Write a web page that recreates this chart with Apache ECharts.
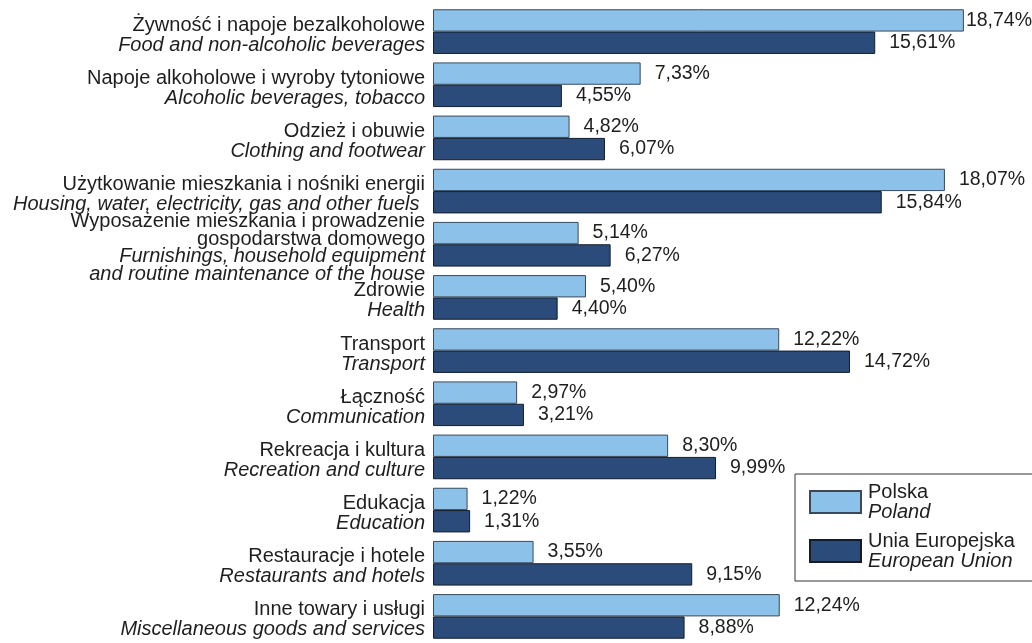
<!DOCTYPE html>
<html>
<head>
<meta charset="utf-8">
<script src="https://cdn.jsdelivr.net/npm/echarts@6/dist/echarts.min.js"></script>
<style>
    html, body {margin: 0; padding: 0; background: #fff;}
    #chart {width: 1032px; height: 643px;}
</style>
</head>
<body>
<div id="chart"></div>
<script>
// nazwy kategorii (PL / EN)
var plNames = [
    'Żywność i napoje bezalkoholowe',
    'Napoje alkoholowe i wyroby tytoniowe',
    'Odzież i obuwie',
    'Użytkowanie mieszkania i nośniki energii',
    'Wyposażenie mieszkania i prowadzenie\ngospodarstwa domowego',
    'Zdrowie',
    'Transport',
    'Łączność',
    'Rekreacja i kultura',
    'Edukacja',
    'Restauracje i hotele',
    'Inne towary i usługi'
];
var enNames = [
    'Food and non-alcoholic beverages',
    'Alcoholic beverages, tobacco',
    'Clothing and footwear',
    'Housing, water, electricity, gas and other fuels ',
    'Furnishings, household equipment\nand routine maintenance of the house',
    'Health',
    'Transport',
    'Communication',
    'Recreation and culture',
    'Education',
    'Restaurants and hotels',
    'Miscellaneous goods and services'
];

// udziały w %
var polandVals = [18.74, 7.33, 4.82, 18.07, 5.14, 5.40, 12.22, 2.97, 8.30, 1.22, 3.55, 12.24];
var euVals = [15.61, 4.55, 6.07, 15.84, 6.27, 4.40, 14.72, 3.21, 9.99, 1.31, 9.15, 8.88];

var legendPl = ['Polska', 'Unia Europejska'];
var legendEn = ['Poland', 'European Union'];

var FONT = '"Liberation Sans", Arial, sans-serif';
var TXT = '#1e1e1e';
var FS = 20;

function fmtPct(p) {
    return p.value.toFixed(2).replace('.', ',') + '%';
}

// etykieta przy samej krawędzi wykresu - bliżej słupka
function buildData(arr) {
    return arr.map(function (v) {
        return v > 18.5 ? {value: v, label: {distance: 2}} : v;
    });
}

function barSeries(name, vals, color, border) {
    return {
        name: name,
        type: 'bar',
        data: buildData(vals),
        barGap: 0,
        barCategoryGap: '16%',
        itemStyle: {
            color: color,
            borderColor: border,
            borderWidth: 1
        },
        label: {
            show: true,
            position: 'right',
            distance: 14,
            formatter: fmtPct,
            color: TXT,
            fontFamily: FONT,
            fontSize: 19.5
        },
        animation: false
    };
}

var myChart = echarts.init(document.getElementById('chart'));

var option = {
    backgroundColor: '#fff',
    grid: {
        left: 433,
        top: 5,
        width: 566.6,
        height: 641
    },
    xAxis: {
        type: 'value',
        min: 0,
        max: 20,
        show: false
    },
    yAxis: {
        type: 'category',
        inverse: true,
        data: plNames,
        axisLine: {show: false},
        axisTick: {show: false},
        axisLabel: {
            margin: 8,
            align: 'right',
            padding: [7, 0, 0, 0],
            formatter: function (v, i) {
                if (plNames[i].indexOf('\n') >= 0) {
                    return '{c|' + plNames[i] + '}\n{d|' + enNames[i] + '}';
                }
                return '{a|' + plNames[i] + '}\n{b|' + enNames[i] + '}';
            },
            rich: {
                a: {fontFamily: FONT, fontSize: FS, color: TXT, lineHeight: 20, align: 'right'},
                b: {fontFamily: FONT, fontSize: FS, color: TXT, lineHeight: 20, fontStyle: 'italic', align: 'right'},
                c: {fontFamily: FONT, fontSize: FS, color: TXT, lineHeight: 17.5, align: 'right'},
                d: {fontFamily: FONT, fontSize: FS, color: TXT, lineHeight: 17.5, fontStyle: 'italic', align: 'right'}
            }
        }
    },
    legend: {
        orient: 'vertical',
        left: 795,
        top: 474,
        padding: [8, 40, 10, 14],
        itemWidth: 51,
        itemHeight: 22,
        itemGap: 9,
        borderColor: '#333',
        borderWidth: 1,
        icon: 'rect',
        data: legendPl,
        formatter: function (name) {
            var i = legendPl.indexOf(name);
            return '{a|' + legendPl[i] + '}\n{b|' + legendEn[i] + '}';
        },
        textStyle: {
            padding: [0, 0, 0, 2],
            rich: {
                a: {fontFamily: FONT, fontSize: FS, color: TXT, lineHeight: 20},
                b: {fontFamily: FONT, fontSize: FS, color: TXT, lineHeight: 20, fontStyle: 'italic'}
            }
        }
    },
    series: [
        barSeries(legendPl[0], polandVals, '#8cc1e9', '#3a4a5c'),
        barSeries(legendPl[1], euVals, '#2b4c7a', '#141c28')
    ]
};

myChart.setOption(option);
</script>
</body>
</html>
